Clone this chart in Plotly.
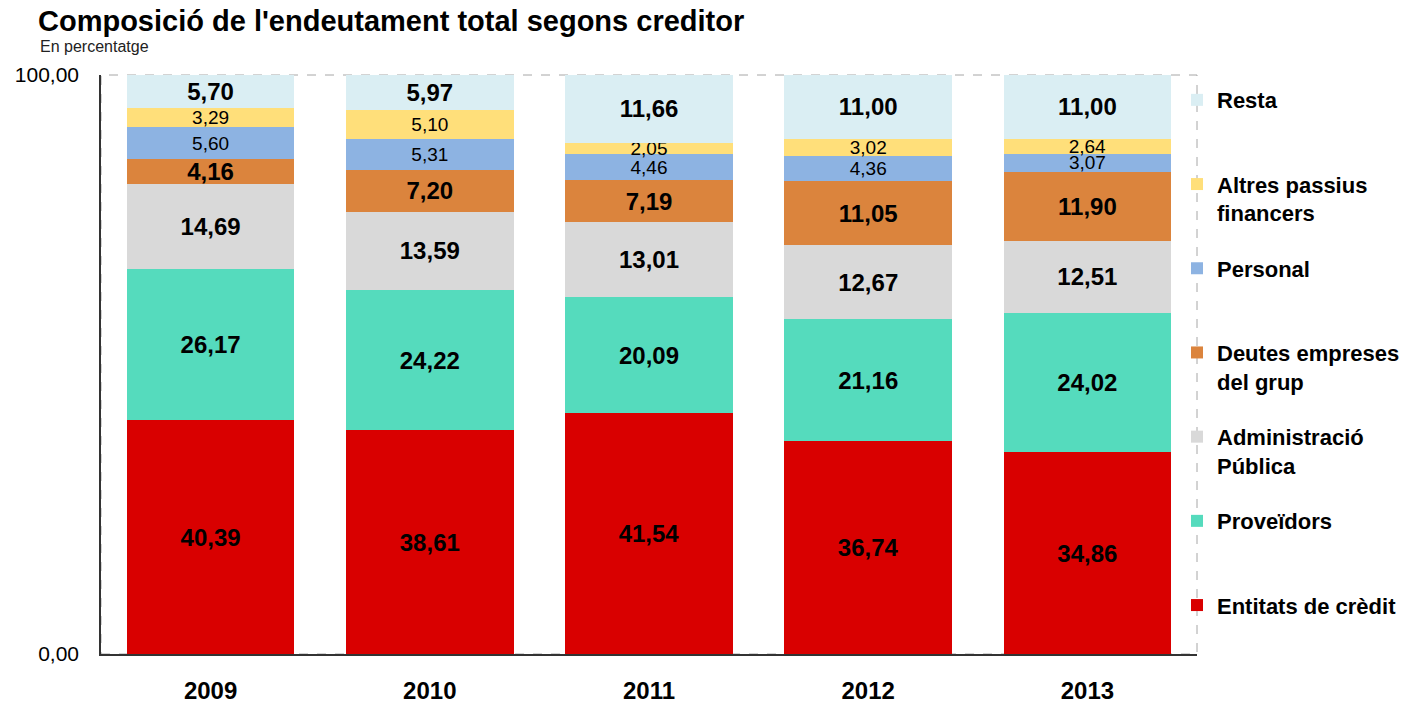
import plotly.graph_objects as go

years = ["2009", "2010", "2011", "2012", "2013"]

entitats = [40.39, 38.61, 41.54, 36.74, 34.86]
proveidors = [26.17, 24.22, 20.09, 21.16, 24.02]
administracio = [14.69, 13.59, 13.01, 12.67, 12.51]
deutes = [4.16, 7.20, 7.19, 11.05, 11.90]
personal = [5.60, 5.31, 4.46, 4.36, 3.07]
altres = [3.29, 5.10, 2.05, 3.02, 2.64]
resta = [5.70, 5.97, 11.66, 11.00, 11.00]

y_ticks = [0, 100]

FONT = "Liberation Sans, Arial, sans-serif"

series = [
    ("Entitats de crèdit<br>\u00a0", entitats, "#D90000", "bold", 24),
    ("Proveïdors<br>\u00a0", proveidors, "#55DBBD", "bold", 24),
    ("Administració<br>Pública", administracio, "#D9D9D9", "bold", 24),
    ("Deutes empreses<br>del grup", deutes, "#DB843D", "bold", 24),
    ("Personal<br>\u00a0", personal, "#8DB3E2", "normal", 19),
    ("Altres passius<br>financers", altres, "#FFDF7A", "normal", 19),
    ("Resta<br>\u00a0", resta, "#DAEEF3", "bold", 24),
]

fig = go.Figure()
n = len(series)
for i, (name, vals, color, weight, size) in enumerate(series):
    fig.add_trace(go.Bar(
        x=years, y=vals, name=name, legendgroup=f"g{i}", legendrank=n - i,
        marker=dict(color=color, line=dict(width=0)),
        texttemplate="%{y:.2f}", textposition="inside",
        insidetextanchor="middle", constraintext="none", textangle=0,
        textfont=dict(family=FONT, size=size, color="black", weight=weight),
        hoverinfo="skip",
    ))

fig.update_layout(
    barmode="stack",
    bargap=0.235,
    separators=",.",
    width=1405, height=704,
    margin=dict(l=101, r=208, t=75, b=50, autoexpand=False),
    paper_bgcolor="white", plot_bgcolor="white",
    font=dict(family=FONT, color="black"),
    title=dict(
        text="<b>Composició de l'endeutament total segons creditor</b>",
        font=dict(family=FONT, size=29, color="black"),
        x=38 / 1405, xref="container", xanchor="left",
        y=1 - 11 / 704, yref="container", yanchor="top",
    ),
    annotations=[dict(
        text="En percentatge", xref="paper", yref="paper",
        x=-63 / 1096, y=(654 - 47) / 579, xanchor="left", yanchor="middle",
        showarrow=False, font=dict(family=FONT, size=16, color="#222222"),
    )],
    legend=dict(
        x=1.0 - 20 / 1096, xanchor="left", y=0.993, yanchor="top",
        traceorder="grouped", tracegroupgap=24, valign="top",
        font=dict(family=FONT, size=22, color="black", weight="bold"),
        bgcolor="rgba(0,0,0,0)",
    ),
    shapes=[dict(
        type="rect", xref="paper", yref="paper", x0=0, x1=1, y0=0, y1=1,
        line=dict(color="#A6A6A6", width=1, dash="dash"), layer="below",
    )],
)

fig.update_xaxes(
    showline=True, linecolor="#333333", linewidth=1.5, automargin=False,
    ticks="", ticklabelstandoff=14,
    tickfont=dict(family=FONT, size=24, color="black", weight="bold"),
    range=[-0.5, 4.5],
)
fig.update_yaxes(
    range=[0, 100], tickvals=y_ticks, tickformat=".2f", automargin=False,
    showgrid=False, zeroline=False,
    showline=True, linecolor="#333333", linewidth=1.5,
    ticks="", ticklabelstandoff=16,
    tickfont=dict(family=FONT, size=21, color="black"),
)

fig.write_html(
    "out.html",
    config={"displayModeBar": False},
    post_script="document.body.style.margin='0';document.body.style.overflow='hidden';",
)
